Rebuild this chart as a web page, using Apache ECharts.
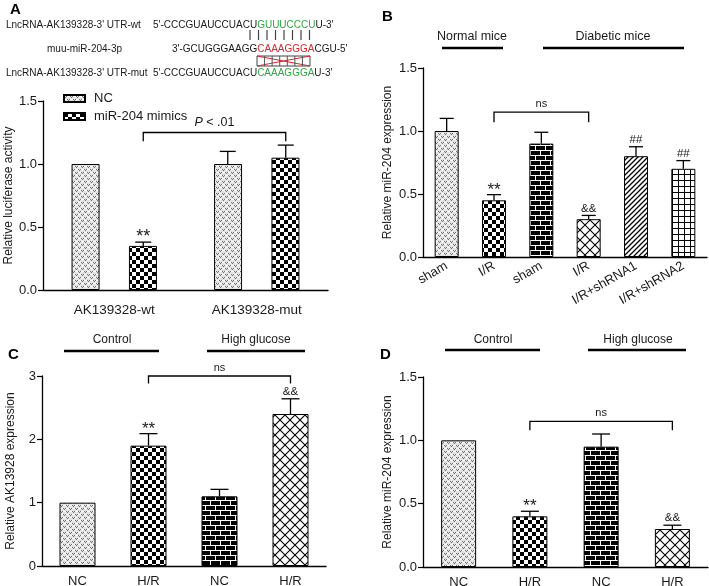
<!DOCTYPE html>
<html><head><meta charset="utf-8">
<script src="https://cdn.jsdelivr.net/npm/echarts@6/dist/echarts.min.js"></script>
<style>html,body{margin:0;padding:0;background:#fff}#c{width:709px;height:586px}</style>
</head><body><div id="c"></div>
<script>
// ---------- data ----------
const aCategories = ['AK139328-wt', 'AK139328-mut'];
const aSeriesNames = ['NC', 'miR-204 mimics'];
const aNC = [1.0, 1.0];
const aNCErr = [1.0, 1.10];
const aMimic = [0.35, 1.05];
const aMimicErr = [0.38, 1.15];
const aMimicMarks = ['**', ''];

const bCategories = ['sham', 'I/R', 'sham', 'I/R', 'I/R+shRNA1', 'I/R+shRNA2'];
const bValues = [1.0, 0.45, 0.90, 0.30, 0.80, 0.70];
const bErr = [1.10, 0.495, 0.99, 0.33, 0.875, 0.765];
const bMarks = ['', '**', '', '&&', '##', '##'];

const cCategories = ['NC', 'H/R', 'NC', 'H/R'];
const cValues = [1.0, 1.9, 1.1, 2.4];
const cErr = [1.0, 2.09, 1.21, 2.64];
const cMarks = ['', '**', '', '&&'];

const dCategories = ['NC', 'H/R', 'NC', 'H/R'];
const dValues = [1.0, 0.40, 0.95, 0.30];
const dErr = [1.0, 0.44, 1.05, 0.33];
const dMarks = ['', '**', '', '&&'];

// ---------- patterns ----------
function tile(w, h, fn) {
  const c = document.createElement('canvas'); c.width = w; c.height = h;
  const g = c.getContext('2d'); fn(g, w, h);
  return { image: c, repeat: 'repeat' };
}
const P = {
  dots: tile(6, 6, g => {
    g.fillStyle = '#e4e4e4'; g.fillRect(0, 0, 6, 6);
    g.fillStyle = '#6e6e6e';
    [[0,1],[1,2],[2,1],[3,4],[4,5],[5,4]].forEach(p => g.fillRect(p[0], p[1], 1, 1));
    g.fillStyle = '#ffffff';
    [[0,4],[1,4],[2,4],[3,1],[4,1],[5,1]].forEach(p => g.fillRect(p[0], p[1], 1, 1));
  }),
  checker: tile(8, 8, g => {
    g.fillStyle = '#fff'; g.fillRect(0, 0, 8, 8);
    g.fillStyle = '#000'; g.fillRect(0, 0, 4, 4); g.fillRect(4, 4, 4, 4);
  }),
  brick: tile(10, 10, g => {
    g.fillStyle = '#000'; g.fillRect(0, 0, 10, 10);
    g.fillStyle = '#fff';
    g.fillRect(0, 0, 10, 1); g.fillRect(0, 5, 10, 1);
    g.fillRect(0, 0, 1, 5); g.fillRect(5, 5, 1, 5);
  }),
  cross: tile(10, 10, g => {
    g.fillStyle = '#fff'; g.fillRect(0, 0, 10, 10);
    g.strokeStyle = '#000'; g.lineWidth = 1.1;
    g.beginPath(); g.moveTo(0, 0); g.lineTo(10, 10); g.moveTo(10, 0); g.lineTo(0, 10); g.stroke();
  }),
  diag: tile(5, 5, g => {
    g.fillStyle = '#fff'; g.fillRect(0, 0, 5, 5);
    g.strokeStyle = '#000'; g.lineWidth = 1.3;
    g.beginPath(); g.moveTo(-1, 6); g.lineTo(6, -1); g.moveTo(-1, 1); g.lineTo(1, -1); g.moveTo(4, 6); g.lineTo(6, 4); g.stroke();
  }),
  grid: tile(6, 6, g => {
    g.fillStyle = '#fff'; g.fillRect(0, 0, 6, 6);
    g.fillStyle = '#000'; g.fillRect(0, 0, 6, 1); g.fillRect(0, 0, 1, 6);
  })
};
const bPatterns = [P.dots, P.checker, P.brick, P.cross, P.diag, P.grid];
const cdPatterns = [P.dots, P.checker, P.brick, P.cross];

// ---------- helpers ----------
const FONT = 'Liberation Sans, Arial, sans-serif';
const NARROW = 'Liberation Sans Narrow, Arial Narrow, Liberation Sans, sans-serif';
const TXT = '#1a1a1a';

function xAxis(gi, cats, opts) {
  return Object.assign({
    type: 'category', gridIndex: gi, data: cats,
    axisLine: { lineStyle: { color: '#000', width: 1.3 } },
    axisTick: { alignWithLabel: true, length: 5, lineStyle: { color: '#000', width: 1.2 } },
    axisLabel: { color: TXT, fontFamily: FONT, fontSize: 13, margin: 9, interval: 0 },
    splitLine: { show: false }
  }, opts || {});
}
function yAxis(gi, max, interval, name, nameGap, dec) {
  return {
    type: 'value', gridIndex: gi, min: 0, max: max, interval: interval,
    name: name, nameLocation: 'middle', nameGap: nameGap,
    nameTextStyle: { color: TXT, fontFamily: FONT, fontSize: 12 },
    axisLine: { show: true, lineStyle: { color: '#000', width: 1.3 } },
    axisTick: { show: true, length: 5, lineStyle: { color: '#000', width: 1.2 } },
    axisLabel: { color: TXT, fontFamily: FONT, fontSize: 13, margin: 6,
      formatter: v => dec ? v.toFixed(1) : String(v) },
    splitLine: { show: false }
  };
}
function barSeries(gi, name, values, patterns, width, extra) {
  return Object.assign({
    type: 'bar', name: name, xAxisIndex: gi, yAxisIndex: gi, barWidth: width,
    data: values.map((v, i) => ({ value: v, itemStyle: { color: Array.isArray(patterns) ? patterns[i] : patterns } })),
    itemStyle: { borderColor: '#000', borderWidth: 1 },
    emphasis: { disabled: true }, z: 2
  }, extra || {});
}
function errSeries(gi, values, errs, marks, offset, capHalf, starFont, otherFont) {
  const rows = values.map((v, i) => [i, v, errs[i]]);
  return {
    type: 'custom', xAxisIndex: gi, yAxisIndex: gi, data: rows, z: 5, silent: true,
    renderItem: (p, api) => {
      const i = api.value(0), v = api.value(1), e = api.value(2);
      const b = api.coord([i, v]), t = api.coord([i, e]);
      const x = b[0] + offset;
      const ch = [];
      if (e > v) {
        ch.push({ type: 'line', shape: { x1: x, y1: b[1], x2: x, y2: t[1] }, style: { stroke: '#000', lineWidth: 1.3 } });
        ch.push({ type: 'line', shape: { x1: x - capHalf, y1: t[1], x2: x + capHalf, y2: t[1] }, style: { stroke: '#000', lineWidth: 1.3 } });
      }
      const mk = marks[p.dataIndex];
      if (mk) {
        const star = mk === '**';
        ch.push({ type: 'text', style: { text: mk, x: x, y: Math.min(t[1], b[1]) + (star ? 4 : -1), align: 'center', verticalAlign: 'bottom', font: star ? starFont : otherFont, fill: TXT } });
      }
      return { type: 'group', children: ch };
    }
  };
}
function bracketSeries(gi, rows, offset, labelFont) {
  return {
    type: 'custom', xAxisIndex: gi, yAxisIndex: gi, z: 5, silent: true,
    data: rows.map(r => [r[0], r[2], r[1], r[3]]),
    renderItem: (p, api) => {
      const r = rows[p.dataIndex];
      const a = api.coord([r[0], r[2]]), b = api.coord([r[1], r[2]]);
      const la = api.coord([r[0], r[3]]), lb = api.coord([r[1], r[3]]);
      const x1 = a[0] + offset, x2 = b[0] + offset;
      return { type: 'group', children: [
        { type: 'polyline', shape: { points: [[x1, la[1]], [x1, a[1]], [x2, b[1]], [x2, lb[1]]] }, style: { stroke: '#000', lineWidth: 1.3, fill: null } },
        { type: 'text', style: { text: r[4], x: (x1 + x2) / 2, y: a[1] - 3, align: 'center', verticalAlign: 'bottom', font: labelFont, fill: TXT, rich: { i: { fontStyle: 'italic', font: 'italic ' + labelFont } } } }
      ] };
    }
  };
}
// brackets: [fromIndex, toIndex, topValue, legValue, label]
const aBracket = [[0, 1, 1.25, 1.18, '{i|P} < .01']];
const bBracket = [[1, 3, 1.15, 1.07, 'ns']];
const cBracket = [[1, 3, 3.0, 2.88, 'ns']];
const dBracket = [[1, 3, 1.15, 1.08, 'ns']];

// ---------- graphics (annotation text outside plots) ----------
function header(text, cx, ty, x1, x2, ly, font) {
  return [
    { type: 'text', x: cx, y: ty, style: { text: text, align: 'center', verticalAlign: 'middle', font: font, fill: TXT } },
    { type: 'line', shape: { x1: x1, y1: ly, x2: x2, y2: ly }, style: { stroke: '#000', lineWidth: 2.5 } }
  ];
}
const seqFont = '10px ' + FONT;
const graphics = [
  { type: 'text', x: 10, y: 10, style: { text: 'A', font: 'bold 15px ' + FONT, fill: '#000', verticalAlign: 'middle' } },
  { type: 'text', x: 382, y: 17, style: { text: 'B', font: 'bold 15px ' + FONT, fill: '#000', verticalAlign: 'middle' } },
  { type: 'text', x: 8, y: 355, style: { text: 'C', font: 'bold 15px ' + FONT, fill: '#000', verticalAlign: 'middle' } },
  { type: 'text', x: 380, y: 355, style: { text: 'D', font: 'bold 15px ' + FONT, fill: '#000', verticalAlign: 'middle' } },
  { type: 'text', x: 6, y: 25, style: { text: "LncRNA-AK139328-3' UTR-wt", font: seqFont, fill: TXT, verticalAlign: 'middle' } },
  { type: 'text', x: 153, y: 25, style: { text: "5'-CCCGUAUCCUACU{g|GUUUCCCU}U-3'", font: seqFont, fill: TXT, verticalAlign: 'middle', rich: { g: { fill: '#2fa843', font: seqFont } } } },
  { type: 'text', x: 47, y: 49, style: { text: 'muu-miR-204-3p', font: seqFont, fill: TXT, verticalAlign: 'middle' } },
  { type: 'text', x: 172, y: 49, style: { text: "3'-GCUGGGAAGG{r|CAAAGGGA}CGU-5'", font: seqFont, fill: TXT, verticalAlign: 'middle', rich: { r: { fill: '#e0262b', font: seqFont } } } },
  { type: 'text', x: 6, y: 73, style: { text: "LncRNA-AK139328-3' UTR-mut", font: seqFont, fill: TXT, verticalAlign: 'middle' } },
  { type: 'text', x: 153, y: 73, style: { text: "5'-CCCGUAUCCUACU{g|CAAAGGGA}U-3'", font: seqFont, fill: TXT, verticalAlign: 'middle', rich: { g: { fill: '#2fa843', font: seqFont } } } },
  ...header('Normal mice', 472, 37, 442, 503, 48, '12.5px ' + FONT),
  ...header('Diabetic mice', 613, 37, 543, 684, 48, '12.5px ' + FONT),
  ...header('Control', 112, 340, 64, 159, 351, '12px ' + NARROW),
  ...header('High glucose', 256, 340, 207, 305, 351, '12px ' + NARROW),
  ...header('Control', 493, 340, 445, 540, 350, '12px ' + NARROW),
  ...header('High glucose', 638, 340, 588, 686, 350, '12px ' + NARROW)
];
// pairing bars (wt) and mutation box
for (let k = 0; k < 8; k++) {
  const x = 250 + k * 8.5;
  graphics.push({ type: 'line', shape: { x1: x, y1: 30, x2: x, y2: 40 }, style: { stroke: '#444', lineWidth: 1.2 } });
}
graphics.push({ type: 'rect', shape: { x: 257, y: 56, width: 53, height: 10 }, style: { stroke: '#444', fill: null, lineWidth: 1 } });
graphics.push({ type: 'polyline', shape: { points: [[257, 56], [310, 66]] }, style: { stroke: '#e0262b', lineWidth: 1 } });
graphics.push({ type: 'polyline', shape: { points: [[257, 66], [310, 56]] }, style: { stroke: '#e0262b', lineWidth: 1 } });
for (let k = 1; k < 7; k++) {
  const x = 257 + k * 53 / 7;
  graphics.push({ type: 'line', shape: { x1: x, y1: 56, x2: x, y2: 66 }, style: { stroke: '#555', lineWidth: 1 } });
}

const chart = echarts.init(document.getElementById('c'), null, { renderer: 'canvas' });
chart.setOption({
  animation: false,
  backgroundColor: '#fff',
  grid: [
    { left: 43, right: 381, top: 101, bottom: 296, outerBoundsMode: 'none' },
    { left: 423, right: 2, top: 68, bottom: 329, outerBoundsMode: 'none' },
    { left: 42, right: 383, top: 376, bottom: 20, outerBoundsMode: 'none' },
    { left: 423, right: 1, top: 377, bottom: 19, outerBoundsMode: 'none' }
  ],
  legend: {
    data: aSeriesNames, left: 58, top: 87, orient: 'vertical', itemWidth: 21, itemHeight: 7, itemGap: 5,
    textStyle: { color: TXT, fontFamily: FONT, fontSize: 13, padding: [0, 0, 0, 4] }, selectedMode: false,
    icon: 'rect'
  },
  xAxis: [
    xAxis(0, aCategories, { axisLabel: { color: TXT, fontFamily: FONT, fontSize: 13.5, margin: 13 } }),
    xAxis(1, bCategories, { axisLabel: { color: TXT, fontFamily: FONT, fontSize: 13, margin: 8, rotate: 30, interval: 0 } }),
    xAxis(2, cCategories),
    xAxis(3, dCategories)
  ],
  yAxis: [
    yAxis(0, 1.5, 0.5, 'Relative luciferase activity', 27, true),
    yAxis(1, 1.5, 0.5, 'Relative miR-204 expression', 29, true),
    yAxis(2, 3, 1, 'Relative AK13928 expression', 25, false),
    yAxis(3, 1.5, 0.5, 'Relative miR-204 expression', 29, true)
  ],
  series: [
    barSeries(0, aSeriesNames[0], aNC, P.dots, 28, { barGap: '105%', itemStyle: { color: P.dots, borderColor: '#000', borderWidth: 1 } }),
    barSeries(0, aSeriesNames[1], aMimic, P.checker, 28, { barGap: '105%', itemStyle: { color: P.checker, borderColor: '#000', borderWidth: 1 } }),
    errSeries(0, aNC, aNCErr, ['', ''], -29, 8, '18px ' + FONT, '12px ' + FONT),
    errSeries(0, aMimic, aMimicErr, aMimicMarks, 29, 8, '18px ' + FONT, '12px ' + FONT),
    bracketSeries(0, aBracket, 29, '12.5px ' + FONT),

    barSeries(1, 'b', bValues, bPatterns, 24),
    errSeries(1, bValues, bErr, bMarks, 0, 7, '17px ' + FONT, '11.5px ' + NARROW),
    bracketSeries(1, bBracket, 0, '11px ' + FONT),

    barSeries(2, 'c', cValues, cdPatterns, 36),
    errSeries(2, cValues, cErr, cMarks, 0, 9, '17px ' + FONT, '11.5px ' + NARROW),
    bracketSeries(2, cBracket, 0, '11px ' + FONT),

    barSeries(3, 'd', dValues, cdPatterns, 35),
    errSeries(3, dValues, dErr, dMarks, 0, 9, '17px ' + FONT, '11.5px ' + NARROW),
    bracketSeries(3, dBracket, 0, '11px ' + FONT)
  ],
  graphic: graphics
});
</script></body></html>
